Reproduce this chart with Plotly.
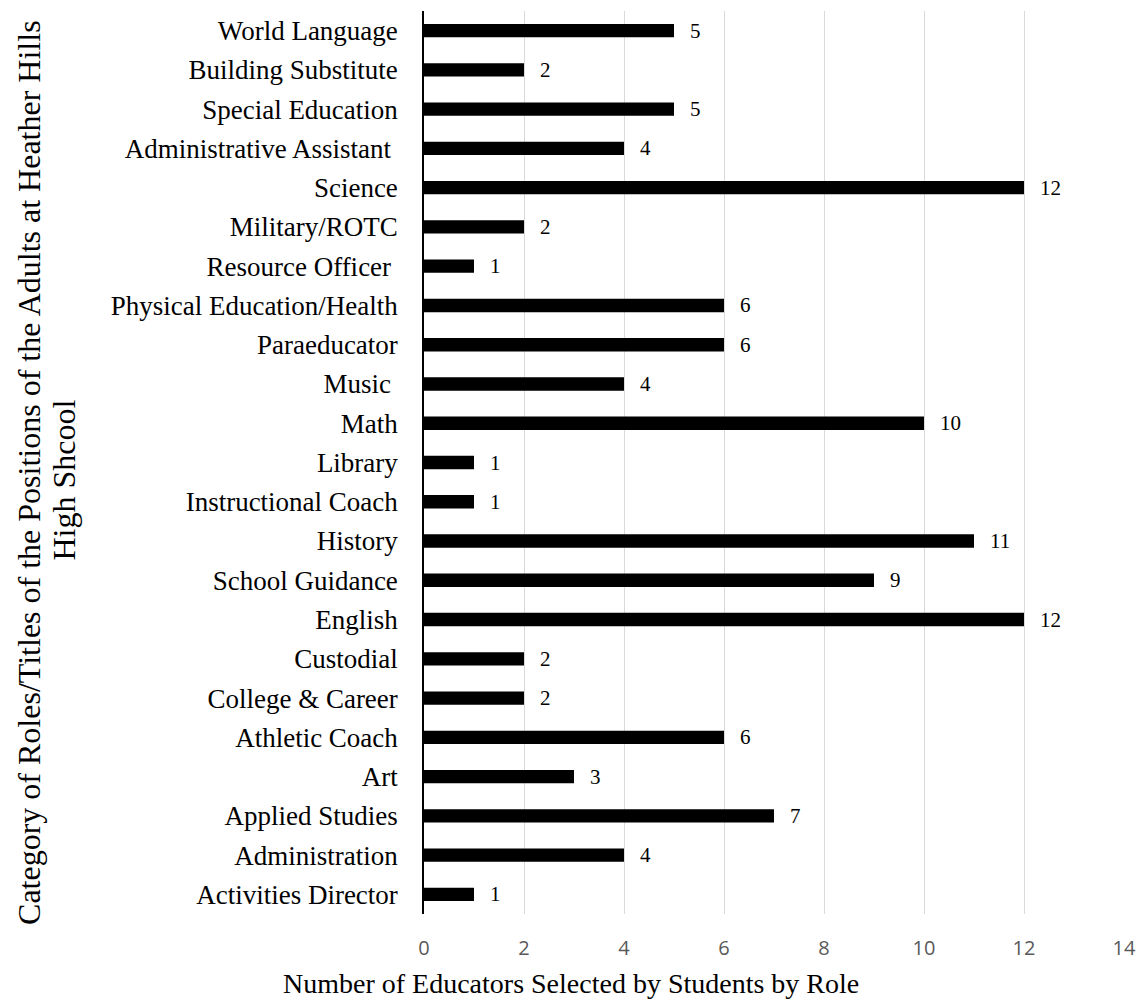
import plotly.graph_objects as go

categories = [
    "Activities Director", "Administration", "Applied Studies", "Art",
    "Athletic Coach", "College & Career", "Custodial", "English",
    "School Guidance", "History", "Instructional Coach", "Library", "Math",
    "Music ", "Paraeducator", "Physical Education/Health", "Resource Officer ",
    "Military/ROTC", "Science", "Administrative Assistant ", "Special Education",
    "Building Substitute", "World Language",
]
values = [1, 4, 7, 3, 6, 2, 2, 12, 9, 11, 1, 1, 10, 4, 6, 6, 1, 2, 12, 4, 5, 2, 5]
x_ticks = [0, 2, 4, 6, 8, 10, 12, 14]

x_title = "Number of Educators Selected by Students by Role"
y_title_lines = [
    "Category of Roles/Titles of the Positions of the Adults at Heather Hills",
    "High Shcool",
]

serif = "Liberation Serif, Times New Roman, serif"

fig = go.Figure()
fig.add_trace(go.Bar(
    x=values, y=categories, orientation="h",
    marker=dict(color="black", line=dict(width=0)),
    width=0.34, hoverinfo="x+y",
))

annotations = []
for c, v in zip(categories, values):
    annotations.append(dict(
        x=v, y=c, xref="x", yref="y", text=str(v), showarrow=False,
        xanchor="left", yanchor="middle", xshift=14,
        font=dict(family=serif, size=21, color="black"),
    ))

L, R, T, B = 424, 16, 11, 91
W, H = 1147, 1005
pw, ph = W - L - R, H - T - B

annotations.append(dict(
    text=x_title, showarrow=False, xref="paper", yref="paper",
    x=(572 - L) / pw, y=-(983 - (H - B)) / ph, xanchor="center", yanchor="middle",
    font=dict(family=serif, size=28, color="black"),
))
for line, cx, cy in zip(y_title_lines, [25, 60], [472, 480]):
    annotations.append(dict(
        text=line, showarrow=False, xref="paper", yref="paper", textangle=-90,
        x=(cx - L) / pw, y=((H - B) - cy) / ph, xanchor="center", yanchor="middle",
        font=dict(family=serif, size=32, color="black"),
    ))

fig.update_layout(
    width=W, height=H,
    margin=dict(l=L, r=R, t=T, b=B, pad=0),
    paper_bgcolor="white", plot_bgcolor="white",
    showlegend=False,
    annotations=annotations,
    bargap=0.66,
)
fig.update_xaxes(
    range=[0, 14], tickvals=x_ticks, ticktext=[str(t) for t in x_ticks],
    showgrid=True, gridcolor="#d9d9d9", gridwidth=1,
    zeroline=False, showline=False, ticks="",
    tickfont=dict(family="Open Sans, sans-serif", size=20, color="#595959"),
    ticklabelstandoff=20,
)
fig.update_yaxes(
    categoryorder="array", categoryarray=categories,
    range=[-0.5, len(categories) - 0.5],
    showline=True, linecolor="black", linewidth=1.5,
    showgrid=False, zeroline=False, ticks="",
    tickfont=dict(family=serif, size=27, color="black"),
    ticklabelstandoff=19,
)

fig.write_html("out.html")
